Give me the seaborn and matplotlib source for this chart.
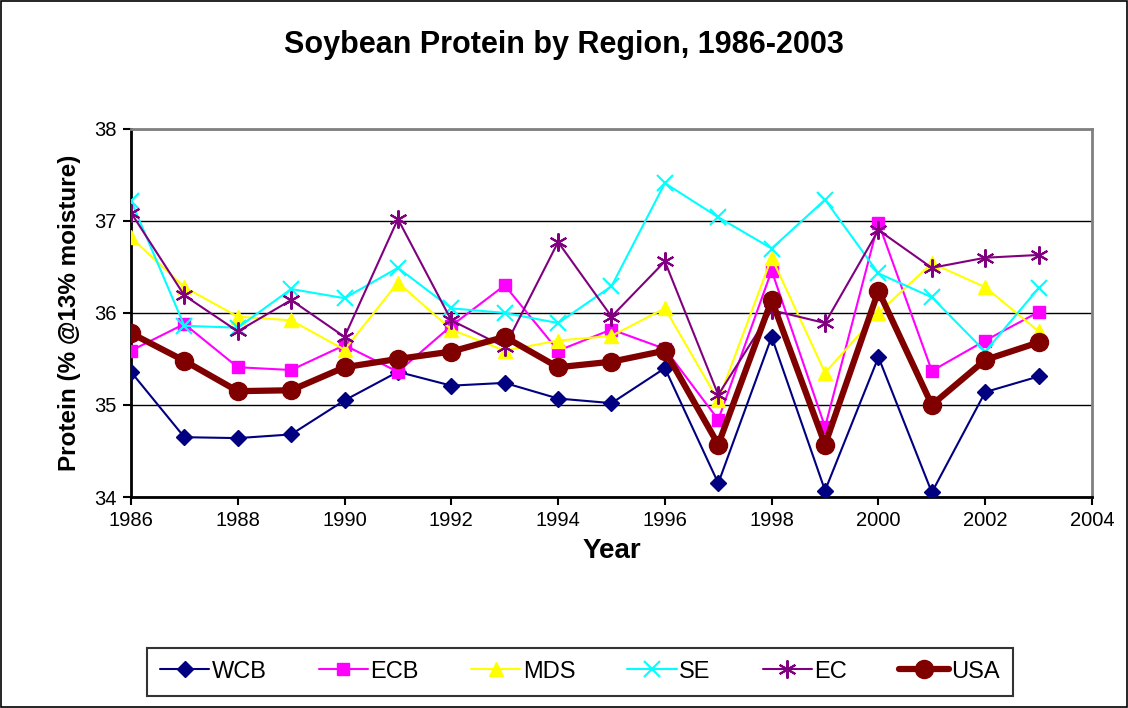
import matplotlib
matplotlib.use("Agg")
import matplotlib.pyplot as plt
import seaborn as sns
import pandas as pd
from matplotlib.patches import Rectangle

years = list(range(1986, 2004))

wcb = [35.36, 34.65, 34.64, 34.68, 35.05, 35.36, 35.21, 35.24, 35.07, 35.02,
       35.40, 34.15, 35.74, 34.07, 35.52, 34.05, 35.14, 35.31]
ecb = [35.59, 35.88, 35.41, 35.38, 35.65, 35.36, 35.86, 36.30, 35.59, 35.82,
       35.61, 34.84, 36.46, 34.76, 36.98, 35.37, 35.70, 36.01]
mds = [36.82, 36.28, 35.96, 35.92, 35.60, 36.33, 35.82, 35.59, 35.70, 35.75,
       36.05, 35.05, 36.60, 35.35, 36.00, 36.54, 36.28, 35.80]
se = [37.22, 35.86, 35.84, 36.26, 36.16, 36.49, 36.05, 36.00, 35.89, 36.29,
      37.41, 37.04, 36.70, 37.23, 36.43, 36.17, 35.58, 36.27]
ec = [37.09, 36.19, 35.80, 36.14, 35.74, 37.02, 35.92, 35.63, 36.77, 35.96,
      36.56, 35.11, 36.03, 35.89, 36.90, 36.49, 36.60, 36.63]
usa = [35.78, 35.48, 35.15, 35.16, 35.41, 35.50, 35.58, 35.74, 35.41, 35.47,
       35.59, 34.57, 36.14, 34.57, 36.24, 35.00, 35.49, 35.68]

series = {"WCB": wcb, "ECB": ecb, "MDS": mds, "SE": se, "EC": ec, "USA": usa}

styles = {
    "WCB": dict(color="#000080", marker="D", markersize=8, lw=1.5),
    "ECB": dict(color="#FF00FF", marker="s", markersize=8, lw=1.5),
    "MDS": dict(color="#FFFF00", marker="^", markersize=10, lw=1.5),
    "SE": dict(color="#00FFFF", marker="x", markersize=11, lw=1.5),
    "EC": dict(color="#800080", marker=(6, 2, 0), markersize=13, lw=1.5),
    "USA": dict(color="#800000", marker="o", markersize=13, lw=4.5),
}

df = pd.DataFrame({"Year": years, **series})

sns.set_style("white")
plt.rcParams["font.family"] = ["Liberation Sans", "DejaVu Sans"]
plt.rcParams.update({"text.color": "black", "axes.labelcolor": "black",
                     "xtick.color": "black", "ytick.color": "black"})

fig = plt.figure(figsize=(11.28, 7.08), dpi=100)
ax = fig.add_axes([0.1161, 0.298, 0.852, 0.520])

for name in series:
    st = styles[name]
    mew = 1.5 if name in ("SE", "EC") else 1
    sns.lineplot(data=df, x="Year", y=name, ax=ax, color=st["color"], marker=st["marker"],
                 markersize=st["markersize"], linewidth=st["lw"], label=name,
                 markeredgecolor=st["color"], markeredgewidth=mew, zorder=3 if name != "USA" else 4)

ax.set_xlim(1986, 2004)
ax.set_ylim(34, 38)
ax.set_xticks(range(1986, 2005, 2))
ax.set_yticks([34, 35, 36, 37, 38])
ax.yaxis.grid(True, color="black", lw=1.0)
ax.set_axisbelow(True)
ax.tick_params(axis="both", labelsize=14.5, direction="out", length=6, width=1.5,
               bottom=True, left=True, color="black", labelcolor="black", pad=4)
for side in ["left", "bottom"]:
    ax.spines[side].set_color("black")
    ax.spines[side].set_linewidth(2)
for side in ["top", "right"]:
    ax.spines[side].set_color("gray")
    ax.spines[side].set_linewidth(2)

ax.set_xlabel("Year", fontsize=20, fontweight="bold", labelpad=6, color="black")
ax.set_ylabel("Protein (% @13% moisture)", fontsize=17.5, fontweight="bold", labelpad=10, color="black")
fig.suptitle("Soybean Protein by Region, 1986-2003", fontsize=22, fontweight="bold", y=0.957, color="black")

ax.get_legend().remove()
handles, labels = ax.get_legend_handles_labels()
leg = fig.legend(handles, labels, loc="center", bbox_to_anchor=(0.514, 0.0515), ncol=6,
                 fontsize=17, frameon=True, fancybox=False, edgecolor="black",
                 handlelength=2.1, columnspacing=2.2, handletextpad=0.1, borderpad=0.55,
                 labelcolor="black")
leg.get_frame().set_linewidth(1.5)

fig.patches.append(Rectangle((0.001, 0.001), 0.998, 0.998, transform=fig.transFigure,
                             fill=False, edgecolor="black", lw=1.2))

fig.savefig("out.png", dpi=100)
